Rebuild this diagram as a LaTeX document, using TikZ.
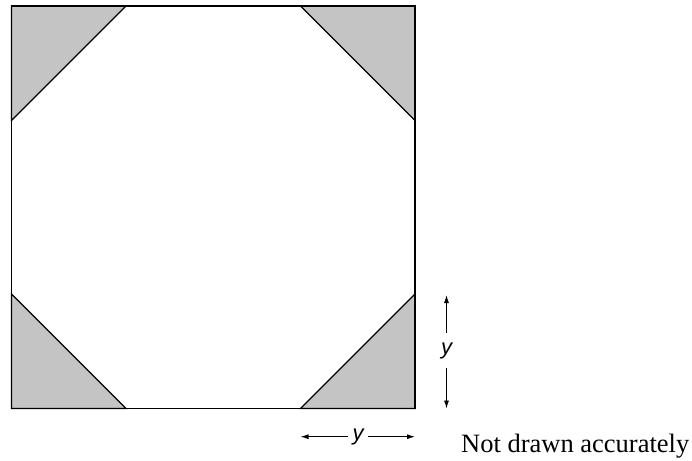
\documentclass[tikz,border=0pt]{standalone}
\usepackage{fontspec}
\setmainfont{Liberation Serif}
\setsansfont{Liberation Sans}
\usetikzlibrary{arrows.meta}
\definecolor{shade}{HTML}{C4C4C4}
\tikzset{
  outline/.style={line width=1.4pt, line join=miter},
  corner/.style={fill=shade, draw=black, line width=1.1pt},
  dimarrow/.style={line width=0.9pt, -{Latex[length=8pt,width=5pt]}},
  dimlabel/.style={inner sep=0pt, font=\fontsize{22}{24}\selectfont\sffamily\itshape},
}
\begin{document}
\begin{tikzpicture}[x=1pt,y=-1pt]
\useasboundingbox (0,0) rectangle (692,460);
% corner triangles
\filldraw[corner] (11.5,6) -- (126,6) -- (11.5,120.5) -- cycle;
\filldraw[corner] (300.5,6) -- (415,6) -- (415,120.5) -- cycle;
\filldraw[corner] (11.5,294) -- (11.5,408.5) -- (126,408.5) -- cycle;
\filldraw[corner] (415,294) -- (415,408.5) -- (300.5,408.5) -- cycle;
% square
\draw[outline] (11.5,6) rectangle (415,408.5);
% vertical dimension
\node[dimlabel, minimum height=35pt, minimum width=14pt] (yv) at (446.5,350.5) {y};
\coordinate (vtop) at (446.5,295);
\coordinate (vbot) at (446.5,408.5);
\draw[dimarrow] (yv.north) -- (vtop);
\draw[dimarrow] (yv.south) -- (vbot);
% horizontal dimension
\node[dimlabel, minimum width=20pt, minimum height=16pt] (yh) at (358,436.7) {y};
\coordinate (hleft) at (300.5,436.7);
\coordinate (hright) at (415,436.7);
\draw[dimarrow] (yh.west) -- (hleft);
\draw[dimarrow] (yh.east) -- (hright);
% note
\node[anchor=base west, inner sep=0pt, font=\fontsize{26.5}{28}\selectfont] (note) at (461,452) {Not drawn accurately};
\end{tikzpicture}
\end{document}
